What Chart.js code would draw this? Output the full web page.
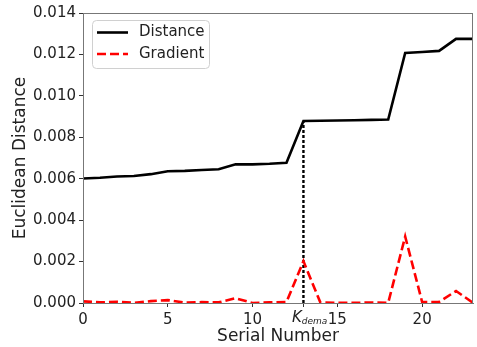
<!DOCTYPE html>
<html>
<head>
<meta charset="utf-8">
<script src="https://cdn.jsdelivr.net/npm/chart.js@4/dist/chart.umd.min.js"></script>
<style>
  html, body { margin: 0; padding: 0; background: #fff; }
  #wrap { width: 477px; height: 347px; }
</style>
</head>
<body>
<div id="wrap"><canvas id="chart" width="477" height="347"></canvas></div>
<script>
const serial = [0, 1, 2, 3, 4, 5, 6, 7, 8, 9, 10, 11, 12, 13, 14, 15, 16, 17, 18, 19, 20, 21, 22, 23];
const distance = [0.00601, 0.00605, 0.00611, 0.00613, 0.00622, 0.00636, 0.00638, 0.00642,
    0.00646, 0.00670, 0.00669, 0.00672, 0.00677, 0.00879, 0.00880, 0.00881,
    0.00882, 0.00884, 0.00886, 0.01207, 0.01212, 0.01217, 0.01275, 0.01275];
const gradient = [0.00008, 0.00003, 0.00006, 0.00001, 0.00009, 0.00014, 0.00002, 0.00004,
    0.00003, 0.00023, 0.00000, 0.00003, 0.00005, 0.00202, 0.00002, 0.00001,
    0.00001, 0.00002, 0.00001, 0.00321, 0.00005, 0.00005, 0.00058, 0.00001];
const kDema = 13;
const xTicks = [0, 5, 10, 13, 15, 20];
const yTicks = [0, 0.002, 0.004, 0.006, 0.008, 0.010, 0.012, 0.014];

const FONT = 'DejaVu Sans';
const axisColor = '#777';

// frame on top/right, like matplotlib spines
const framePlugin = {
    id: 'frame',
    afterDatasetsDraw(chart) {
        const ctx = chart.ctx;
        const a = chart.chartArea;
        ctx.save();
        ctx.strokeStyle = axisColor;
        ctx.lineWidth = 1;
        ctx.strokeRect(a.left + 0.5, a.top + 0.5, a.right - a.left - 1, a.bottom - a.top);
        ctx.restore();
    }
};

const legendPlugin = {
    id: 'innerLegend',
    afterDraw(chart) {
        const ctx = chart.ctx;
        const items = chart.data.datasets.filter(d => !d.hideLegend);
        const x0 = 92, y0 = 20, w = 117, h = 48;
        ctx.save();
        ctx.beginPath();
        ctx.roundRect(x0 + 0.5, y0 + 0.5, w, h, 4);
        ctx.fillStyle = 'rgba(255,255,255,0.8)';
        ctx.fill();
        ctx.strokeStyle = '#d0d0d0';
        ctx.lineWidth = 1;
        ctx.stroke();
        items.forEach((d, i) => {
            const y = 32.5 + i * 21.5;
            ctx.beginPath();
            ctx.setLineDash(d.borderDash || []);
            ctx.strokeStyle = d.borderColor;
            ctx.lineWidth = d.borderWidth;
            ctx.moveTo(97, y);
            ctx.lineTo(128, y);
            ctx.stroke();
            ctx.setLineDash([]);
            ctx.fillStyle = '#222';
            ctx.font = '15px ' + FONT;
            ctx.textBaseline = 'middle';
            ctx.fillText(d.label, 139, y);
        });
        ctx.restore();
    }
};

// K_dema tick label with subscript
const kLabelPlugin = {
    id: 'kLabel',
    afterDraw(chart) {
        const ctx = chart.ctx;
        const px = chart.scales.x.getPixelForValue(kDema);
        ctx.save();
        ctx.fillStyle = '#222';
        ctx.textBaseline = 'alphabetic';
        ctx.font = 'italic 15px ' + FONT;
        const kw = ctx.measureText('K').width;
        const start = px - 11.5;
        ctx.fillText('K', start, 321.5);
        ctx.font = 'italic 9px ' + FONT;
        ctx.fillText('dema', start + kw, 323.5);
        ctx.restore();
    }
};

const ctx = document.getElementById('chart').getContext('2d');
new Chart(ctx, {
    type: 'line',
    data: {
        datasets: [
            {
                label: 'Distance',
                data: serial.map((s, i) => ({ x: s, y: distance[i] })),
                borderColor: '#000',
                borderWidth: 2.6,
                pointRadius: 0,
                tension: 0,
                order: 2
            },
            {
                label: 'Gradient',
                data: serial.map((s, i) => ({ x: s, y: gradient[i] })),
                borderColor: '#ff0000',
                borderWidth: 2.6,
                borderDash: [9, 4],
                pointRadius: 0,
                tension: 0,
                order: 1
            },
            {
                label: 'Kdema',
                hideLegend: true,
                data: [{ x: kDema, y: 0 }, { x: kDema, y: distance[serial.indexOf(kDema)] }],
                borderColor: '#000',
                borderWidth: 2.4,
                borderDash: [3, 2],
                pointRadius: 0,
                order: 3
            }
        ]
    },
    options: {
        responsive: false,
        animation: false,
        layout: { padding: { top: 13, right: 4, left: 0, bottom: 0 } },
        plugins: {
            legend: { display: false },
            tooltip: { enabled: false }
        },
        scales: {
            x: {
                type: 'linear',
                min: 0,
                max: 23,
                afterBuildTicks: scale => { scale.ticks = xTicks.map(v => ({ value: v })); },
                afterFit: scale => { scale.height = 44; },
                grid: { drawOnChartArea: false, drawTicks: true, tickLength: 4, color: '#333' },
                border: { display: true, color: axisColor, width: 1 },
                ticks: {
                    color: '#222',
                    font: { family: FONT, size: 15 },
                    padding: 4,
                    maxRotation: 0,
                    autoSkip: false,
                    callback: v => (v === kDema ? '' : String(v))
                },
                title: {
                    display: true,
                    text: 'Serial Number',
                    color: '#222',
                    font: { family: FONT, size: 17 },
                    padding: { top: 0, bottom: 0 }
                }
            },
            y: {
                min: 0,
                max: 0.014,
                afterBuildTicks: scale => { scale.ticks = yTicks.map(v => ({ value: v })); },
                afterFit: scale => { scale.width = 83; },
                grid: { drawOnChartArea: false, drawTicks: true, tickLength: 4, color: '#333' },
                border: { display: true, color: axisColor, width: 1 },
                ticks: {
                    color: '#222',
                    font: { family: FONT, size: 15 },
                    padding: 3,
                    callback: v => v.toFixed(3)
                },
                title: {
                    display: true,
                    text: 'Euclidean Distance',
                    color: '#222',
                    font: { family: FONT, size: 17 },
                    padding: { top: 10, bottom: 0 }
                }
            }
        }
    },
    plugins: [framePlugin, legendPlugin, kLabelPlugin]
});
</script>
</body>
</html>
